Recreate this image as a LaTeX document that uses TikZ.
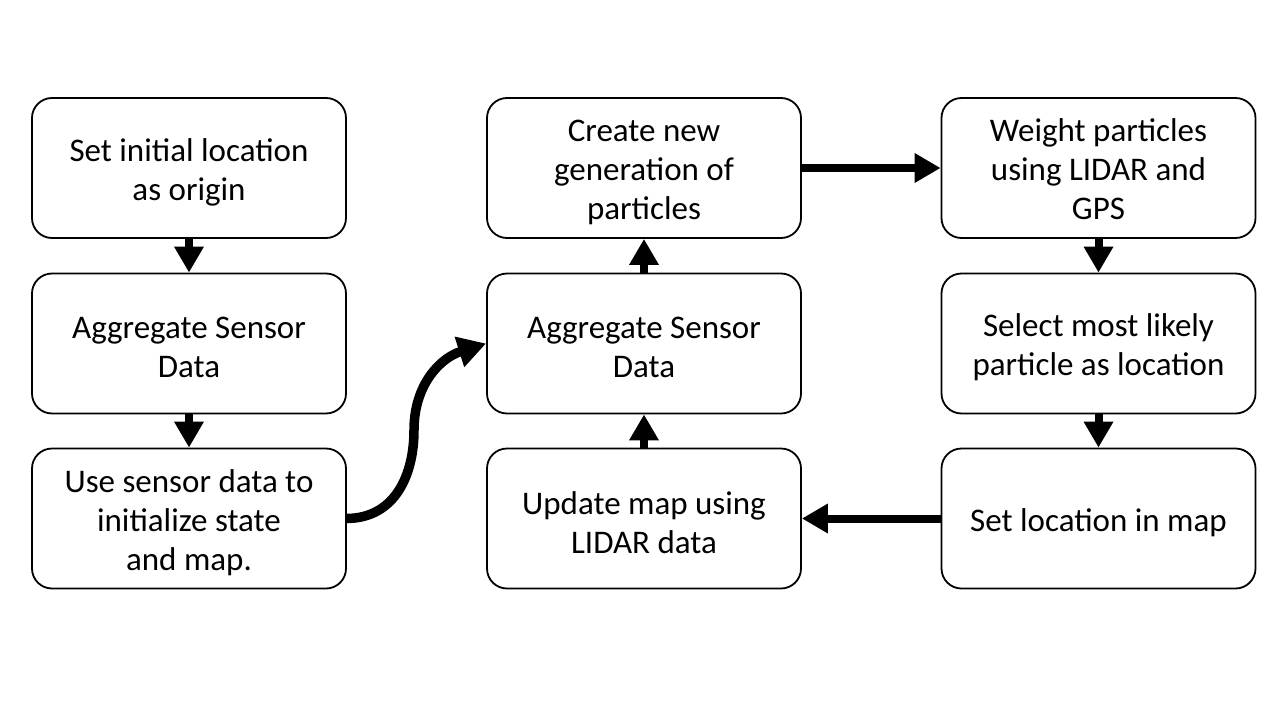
\documentclass[tikz,border=0pt]{standalone}
\usepackage{fontspec}
\setmainfont{Carlito}
\usetikzlibrary{arrows.meta}
\begin{document}
\begin{tikzpicture}[x=1pt,y=-1pt,
  box/.style={draw=black,line width=1.8pt,rounded corners=20pt,minimum width=314pt,minimum height=140pt,inner sep=0pt},
  txt/.style={inner sep=0pt,align=center,yshift=-4pt,font=\fontsize{33}{39}\selectfont},
  bigarrow/.style={line width=8pt,-{Triangle[length=26pt,width=28pt]}},
  curvearrow/.style={line width=9.5pt,-{Triangle[length=28pt,width=30pt]}}]
\useasboundingbox (0,0) rectangle (1280,720);
\node[box] (l1) at (189,168) {};
\node[box] (l2) at (189,343.5) {};
\node[box] (l3) at (189,518.5) {};
\node[box] (m1) at (644,168) {};
\node[box] (m2) at (644,343.5) {};
\node[box] (m3) at (644,518.5) {};
\node[box] (r1) at (1098.5,168) {};
\node[box] (r2) at (1098.5,343.5) {};
\node[box] (r3) at (1098.5,518.5) {};
\node[txt] (l1t) at (l1) {Set initial location\\as origin};
\node[txt] (l2t) at (l2) {Aggregate Sensor\\Data};
\node[txt] (l3t) at (l3) {Use sensor data to\\initialize state\\and map.};
\node[txt] (m1t) at (m1) {Create new\\generation of\\particles};
\node[txt] (m2t) at (m2) {Aggregate Sensor\\Data};
\node[txt] (m3t) at (m3) {Update map using\\LIDAR data};
\node[txt,yshift=3pt] (r1t) at (r1) {Weight particles\\using LIDAR and\\GPS};
\node[txt] (r2t) at (r2) {Select most likely\\particle as location};
\node[txt] (r3t) at (r3) {Set location in map};
\draw[bigarrow] (l1) -- (l2);
\draw[bigarrow] (l2) -- (l3);
\draw[bigarrow] (m2) -- (m1);
\draw[bigarrow] (m3) -- (m2);
\draw[bigarrow] (r1) -- (r2);
\draw[bigarrow] (r2) -- (r3);
\draw[bigarrow] (m1) -- (r1);
\draw[bigarrow] (r3) -- (m3);
\coordinate (cmid) at (414,430);
\draw[curvearrow] (l3.east) .. controls (395,518) and (414,475) .. (cmid) .. controls (414,385) and (440,358) .. (m2.west);
\end{tikzpicture}
\end{document}
